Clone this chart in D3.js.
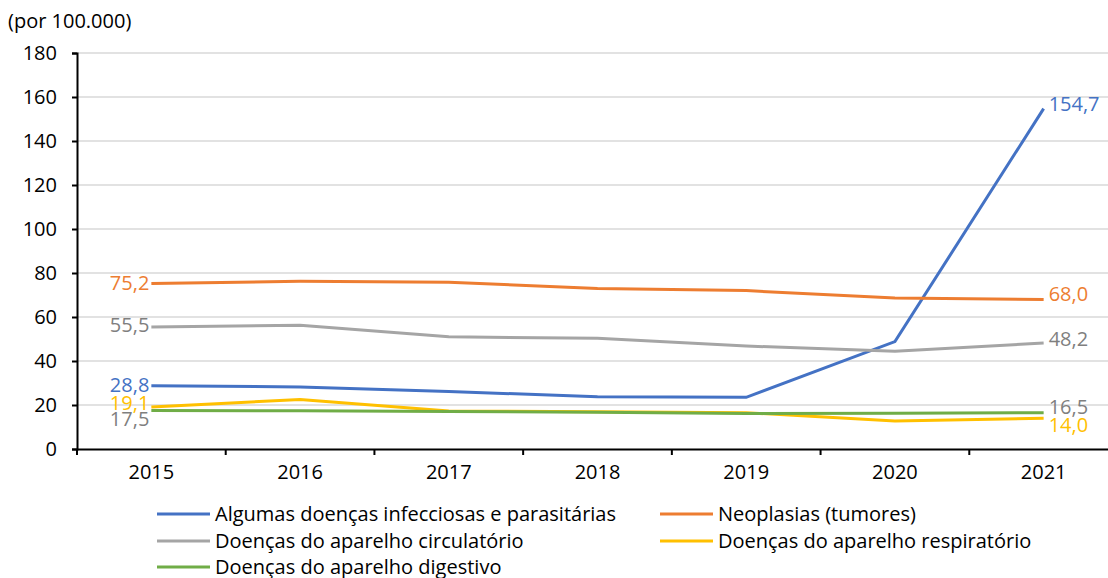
<!DOCTYPE html>
<html>
<head>
<meta charset="utf-8">
<script src="https://cdn.jsdelivr.net/npm/d3@7"></script>
<style>
  body { margin: 0; background: #fff; }
  svg { font-family: "Open Sans", "Noto Sans", sans-serif; }
</style>
</head>
<body>
<div id="chart"></div>
<script>
const years = ["2015", "2016", "2017", "2018", "2019", "2020", "2021"];
const infecciosas = [28.8, 28.2, 26.1, 23.8, 23.5, 48.8, 154.7];
const neoplasias = [75.2, 76.2, 75.8, 73.0, 72.0, 68.6, 68.0];
const circulatorio = [55.5, 56.2, 51.0, 50.3, 46.8, 44.4, 48.2];
const respiratorio = [19.1, 22.5, 17.3, 16.9, 16.5, 12.7, 14.0];
const digestivo = [17.5, 17.4, 17.1, 16.7, 16.1, 16.2, 16.5];
const yTicks = [0, 20, 40, 60, 80, 100, 120, 140, 160, 180];

const series = [
    { name: "Algumas doenças infecciosas e parasitárias", values: infecciosas, color: "#4472C4", label: "#4472C4" },
    { name: "Neoplasias (tumores)", values: neoplasias, color: "#ED7D31", label: "#ED7D31" },
    { name: "Doenças do aparelho circulatório", values: circulatorio, color: "#A5A5A5", label: "#7F7F7F" },
    { name: "Doenças do aparelho respiratório", values: respiratorio, color: "#FFC000", label: "#FFC000" },
    { name: "Doenças do aparelho digestivo", values: digestivo, color: "#70AD47", label: "#7F7F7F" }
];

// vertical nudges for first/last value labels (px)
const firstDy = [-1, -1, -2, -4, 8];
const lastDy = [-5, -5, -4, 7, -6];

const width = 1108, height = 578;
const font = "'Open Sans', 'Noto Sans', sans-serif";
const svg = d3.select("#chart").append("svg")
    .attr("width", width)
    .attr("height", height);

const x = d3.scaleBand().domain(years).range([77, 1118]);
const y = d3.scaleLinear().domain([0, 180]).range([449, 53]);

// gridlines
svg.append("g")
    .selectAll("line")
    .data(yTicks.filter(d => d > 0))
    .join("line")
    .attr("x1", 77).attr("x2", 1118)
    .attr("y1", d => y(d)).attr("y2", d => y(d))
    .attr("stroke", "#d9d9d9")
    .attr("stroke-width", 1.5);

// axes
const yAxis = svg.append("g")
    .attr("transform", "translate(77,0)")
    .call(d3.axisLeft(y).tickValues(yTicks).tickSize(5).tickPadding(15).tickFormat(d3.format("d")));
yAxis.attr("font-family", font);
yAxis.select(".domain").attr("stroke", "#000").attr("stroke-width", 2);
yAxis.selectAll(".tick line").attr("stroke", "#000").attr("stroke-width", 2);
yAxis.selectAll("text").attr("font-size", 20).attr("fill", "#000");

const xAxis = svg.append("g")
    .attr("transform", "translate(0,449)")
    .call(d3.axisBottom(x).tickSize(0).tickPadding(16));
xAxis.attr("font-family", font);
xAxis.select(".domain").attr("stroke", "#000").attr("stroke-width", 2);
xAxis.selectAll("text").attr("font-size", 20).attr("fill", "#000");
// ticks between categories
xAxis.append("g")
    .selectAll("line")
    .data(years)
    .join("line")
    .attr("x1", d => x(d)).attr("x2", d => x(d))
    .attr("y1", 0).attr("y2", 6)
    .attr("stroke", "#000")
    .attr("stroke-width", 2);

svg.append("text")
    .attr("x", 8).attr("y", 28)
    .attr("font-size", 20)
    .attr("fill", "#000")
    .text("(por 100.000)");

// lines
const line = d3.line()
    .x((d, i) => x(years[i]) + x.bandwidth() / 2)
    .y(d => y(d));

svg.append("g")
    .selectAll("path")
    .data(series)
    .join("path")
    .attr("d", s => line(s.values))
    .attr("fill", "none")
    .attr("stroke", s => s.color)
    .attr("stroke-width", 3);

// value labels
const cx = i => x(years[i]) + x.bandwidth() / 2;
const fmt = v => d3.format(".1f")(v).replace(".", ",");
series.forEach((s, k) => {
    const last = s.values.length - 1;
    svg.append("text")
        .attr("x", cx(0) - 2)
        .attr("y", y(s.values[0]) + firstDy[k])
        .attr("dy", "0.35em")
        .attr("text-anchor", "end")
        .attr("font-size", 20)
        .attr("fill", s.label)
        .text(fmt(s.values[0]));
    svg.append("text")
        .attr("x", cx(last) + 5)
        .attr("y", y(s.values[last]) + lastDy[k])
        .attr("dy", "0.35em")
        .attr("font-size", 20)
        .attr("fill", s.label)
        .text(fmt(s.values[last]));
});

// legend
const legendPos = [[157, 514], [660, 514], [157, 541], [660, 541], [157, 567]];
const legend = svg.append("g");
series.forEach((s, i) => {
    const row = legend.append("g").attr("transform", `translate(${legendPos[i][0]},${legendPos[i][1]})`);
    row.append("line").attr("x1", 0).attr("x2", 53).attr("stroke", s.color).attr("stroke-width", 3);
    row.append("text").attr("x", 58).attr("dy", "0.35em").attr("font-size", 20).attr("fill", "#000").text(s.name);
});
</script>
</body>
</html>
